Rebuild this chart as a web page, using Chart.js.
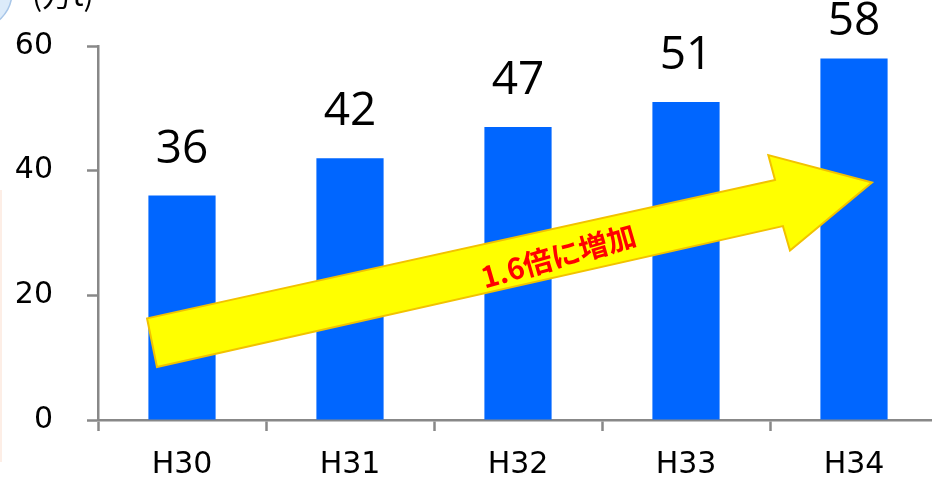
<!DOCTYPE html>
<html>
  <head>
    <meta charset="utf-8" />
    <title>H30-H34</title>
    <script src="https://cdn.jsdelivr.net/npm/chart.js"></script>
    <style>
      html, body { margin: 0; padding: 0; overflow: hidden; background: #fff; }
      #wrap { width: 938px; height: 486px; }
    </style>
  </head>
  <body>
    <div id="wrap"><canvas id="amountChart"></canvas></div>
    <script>
      const years = ["H30", "H31", "H32", "H33", "H34"];
      const amounts = [36, 42, 47, 51, 58];
      const yTicks = [0, 20, 40, 60];
      const unitLabel = "(万t)";
      const arrowText = "1.6倍に増加";

      // arrow outline in chart units (category index, value)
      const arrowX = [-0.208, 3.53, 3.49, 4.107, 3.619, 3.577, -0.149];
      const arrowY = [16.3, 38.5, 42.5, 38.1, 27.2, 31.1, 8.5];
      const arrowLabelAt = [2.24, 26.3];

      const axisGray = "#888888";

      const extras = {
        id: "extras",
        afterDatasetsDraw(chart) {
          const { ctx, scales } = chart;
          const x = scales.x, y = scales.y;
          ctx.save();

          // data labels above bars (kept inside the canvas)
          ctx.fillStyle = "#000";
          ctx.font = "46px 'Open Sans'";
          ctx.textAlign = "center";
          ctx.textBaseline = "alphabetic";
          chart.getDatasetMeta(0).data.forEach((bar, i) => {
            ctx.fillText(String(amounts[i]), bar.x, Math.max(bar.y - 33, 35));
          });

          // arrow
          ctx.beginPath();
          arrowX.forEach((v, i) => {
            const px = x.getPixelForValue(v);
            const py = y.getPixelForValue(arrowY[i]);
            if (i === 0) ctx.moveTo(px, py);
            else ctx.lineTo(px, py);
          });
          ctx.closePath();
          ctx.fillStyle = "#ffff00";
          ctx.fill();
          ctx.strokeStyle = "#f2c200";
          ctx.lineWidth = 2;
          ctx.stroke();

          ctx.translate(x.getPixelForValue(arrowLabelAt[0]), y.getPixelForValue(arrowLabelAt[1]));
          ctx.rotate(-16 * Math.PI / 180);
          ctx.fillStyle = "#ff0000";
          ctx.font = "bold 29px 'Noto Sans CJK JP'";
          ctx.textAlign = "center";
          ctx.textBaseline = "middle";
          ctx.fillText(arrowText, 0, 0);
          ctx.restore();

          // unit label and corner decorations
          ctx.save();
          ctx.fillStyle = "#dcebfa";
          ctx.strokeStyle = "#a8c6e8";
          ctx.lineWidth = 1.5;
          ctx.beginPath();
          ctx.arc(-25, -8, 37, 0, Math.PI * 2);
          ctx.fill();
          ctx.stroke();
          ctx.fillStyle = "#fdeee6";
          ctx.fillRect(0, 190, 2, 272);
          ctx.fillStyle = "#000";
          ctx.font = "30px 'Noto Sans CJK JP'";
          ctx.textAlign = "left";
          ctx.textBaseline = "alphabetic";
          ctx.fillText(unitLabel, 32, 6);
          ctx.restore();
        },
      };

      new Chart(document.getElementById("amountChart"), {
        type: "bar",
        data: {
          labels: years,
          datasets: [
            {
              data: amounts,
              backgroundColor: "#0066ff",
              borderWidth: 0,
              barPercentage: 0.4,
              categoryPercentage: 1,
            },
          ],
        },
        options: {
          responsive: true,
          maintainAspectRatio: false,
          animation: false,
          layout: { padding: { top: 46, right: 0, left: 0, bottom: 0 } },
          scales: {
            x: {
              grid: {
                display: true,
                drawOnChartArea: false,
                drawTicks: true,
                tickLength: 11,
                tickColor: axisGray,
                tickWidth: 2.5,
                offset: true,
              },
              border: { color: axisGray, width: 2.5 },
              ticks: {
                color: "#000",
                font: { family: "'DejaVu Sans'", size: 30 },
                padding: 16,
              },
              afterFit(scale) { scale.height = 66; },
            },
            y: {
              min: 0,
              max: 60,
              afterBuildTicks(scale) {
                scale.ticks = yTicks.map((v) => ({ value: v }));
              },
              grid: {
                display: true,
                drawOnChartArea: false,
                drawTicks: true,
                tickLength: 11,
                tickColor: axisGray,
                tickWidth: 2.5,
              },
              border: { color: axisGray, width: 2.5 },
              ticks: {
                color: "#000",
                font: { family: "'DejaVu Sans'", size: 30 },
                padding: 34,
              },
              afterFit(scale) {
                scale.width = 98;
                scale.paddingTop = 0;
                scale.paddingBottom = 0;
              },
            },
          },
          plugins: {
            legend: { display: false },
            tooltip: { enabled: false },
          },
        },
        plugins: [extras],
      });
    </script>
  </body>
</html>
